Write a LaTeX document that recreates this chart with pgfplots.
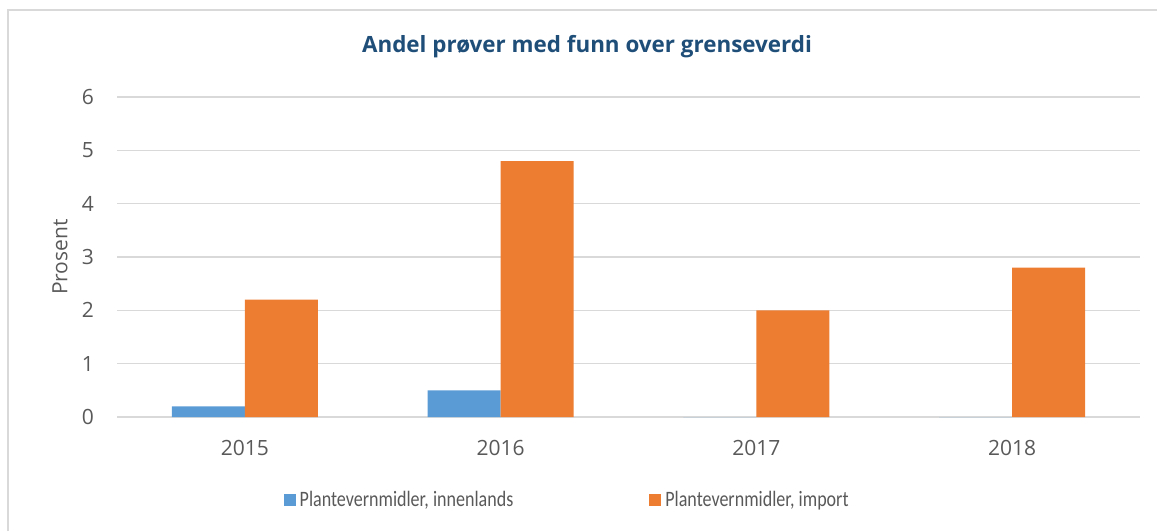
\documentclass[border=0pt]{standalone}
\usepackage{fontspec}
\setmainfont{Open Sans}
\newfontfamily\legfont[FakeStretch=0.82]{Carlito}
\usepackage{pgfplots}
\pgfplotsset{compat=1.18}
\definecolor{ctitle}{HTML}{1F4E79}
\definecolor{cblue}{HTML}{5B9BD5}
\definecolor{corange}{HTML}{ED7D31}
\definecolor{cgrid}{HTML}{D9D9D9}
\definecolor{ctext}{HTML}{595959}
\begin{document}
\begin{tikzpicture}
\useasboundingbox (0,0) rectangle (578.5pt,265.5pt);
\draw[cgrid, line width=0.8pt] (4pt,0) -- (4pt,260.5pt) -- (578.5pt,260.5pt);
\node[font=\fontsize{11.2}{13}\selectfont\bfseries, text=ctitle] at (293.5pt,242pt) {Andel prøver med funn over grenseverdi};
\begin{axis}[
  at={(58.5pt,57pt)}, anchor=south west,
  scale only axis, width=511.5pt, height=160pt,
  ymin=0, ymax=6, ytick={0,1,2,3,4,5,6},
  xmin=-0.5, xmax=3.5, xtick={0,1,2,3},
  xticklabels={2015,2016,2017,2018},
  ybar=0pt, bar width=36.5pt,
  axis line style={draw=none},
  major tick length=0pt,
  ymajorgrids, grid style={cgrid, line width=0.8pt},
  tick label style={font=\fontsize{10.5}{12}\selectfont, text=ctext},
  /pgf/number format/assume math mode=true,
  yticklabel style={xshift=-8pt},
  xticklabel style={yshift=-8pt},
  ylabel={Prosent},
  every axis y label/.style={at={(rel axis cs:0,0.5)}, rotate=90, anchor=center, yshift=28.5pt,
    font=\fontsize{10.5}{12}\selectfont, text=ctext},
  legend columns=2,
  legend style={at={(0.441,-0.259)}, anchor=center, draw=none, fill=none,
    font=\legfont\fontsize{11}{13}\selectfont, text=ctext,
    /tikz/every even column/.append style={column sep=66pt}},
  legend image code/.code={\fill[#1] (0pt,-3pt) rectangle (6pt,3pt);},
]
\addplot[fill=cblue, draw=none] coordinates {(0,0.2) (1,0.5) (2,0) (3,0)};
\addlegendentry{Plantevernmidler, innenlands}
\addplot[fill=corange, draw=none] coordinates {(0,2.2) (1,4.8) (2,2.0) (3,2.8)};
\addlegendentry{Plantevernmidler, import}
\end{axis}
\end{tikzpicture}
\end{document}
